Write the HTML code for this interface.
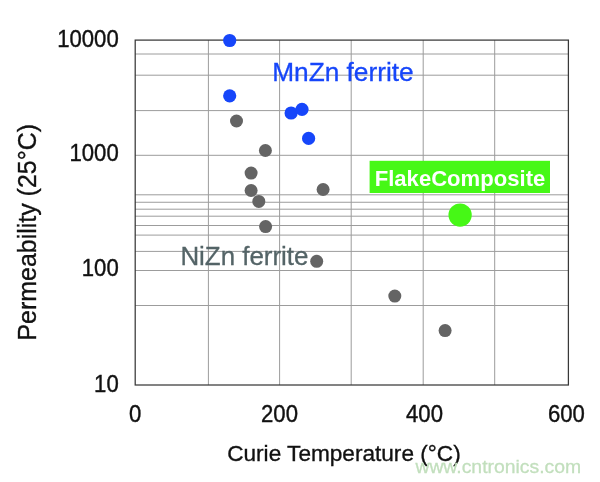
<!DOCTYPE html>
<html>
<head>
<meta charset="utf-8">
<title>Permeability vs Curie Temperature</title>
<style>
html,body{margin:0;padding:0;background:#fff;}
body{width:600px;height:482px;overflow:hidden;}
svg{display:block;}
text{font-family:"Liberation Sans",Arial,Helvetica,sans-serif;}
text{filter:opacity(1);}
</style>
</head>
<body>
<svg width="600" height="482" viewBox="0 0 600 482">
<rect x="0" y="0" width="600" height="482" fill="#ffffff"/>
<!-- grid lines -->
<g stroke="#9c9c9c" stroke-width="1" fill="none">
<line x1="135" x2="568.5" y1="54.0" y2="54.0"/>
<line x1="135" x2="568.5" y1="75.2" y2="75.2"/>
<line x1="135" x2="568.5" y1="110.6" y2="110.6"/>
<line x1="135" x2="568.5" y1="155.3" y2="155.3"/>
<line x1="135" x2="568.5" y1="194.8" y2="194.8"/>
<line x1="135" x2="568.5" y1="202.25" y2="202.25"/>
<line x1="135" x2="568.5" y1="209.2" y2="209.2"/>
<line x1="135" x2="568.5" y1="216.2" y2="216.2"/>
<line x1="135" x2="568.5" y1="225.5" y2="225.5"/>
<line x1="135" x2="568.5" y1="235.1" y2="235.1"/>
<line x1="135" x2="568.5" y1="251.4" y2="251.4"/>
<line x1="135" x2="568.5" y1="270.5" y2="270.5"/>
<line x1="135" x2="568.5" y1="305.5" y2="305.5"/>
<line x1="208.4" x2="208.4" y1="40" y2="385"/>
<line x1="279.6" x2="279.6" y1="40" y2="385"/>
<line x1="351.2" x2="351.2" y1="40" y2="385"/>
<line x1="423.2" x2="423.2" y1="40" y2="385"/>
<line x1="494.7" x2="494.7" y1="40" y2="385"/>
</g>
<!-- plot frame -->
<rect x="135.2" y="40.1" width="433.2" height="344.9" fill="none" stroke="#383838" stroke-width="1.25"/>
<!-- NiZn ferrite points -->
<g fill="#646464">
<circle cx="236.5" cy="121" r="6.5"/>
<circle cx="265.4" cy="150.5" r="6.5"/>
<circle cx="251.1" cy="173.1" r="6.5"/>
<circle cx="251.1" cy="190.5" r="6.5"/>
<circle cx="258.8" cy="201.4" r="6.5"/>
<circle cx="265.6" cy="226.6" r="6.5"/>
<circle cx="323.1" cy="189.5" r="6.5"/>
<circle cx="316.7" cy="261.3" r="6.5"/>
<circle cx="394.8" cy="296.1" r="6.5"/>
<circle cx="445.1" cy="330.6" r="6.5"/>
</g>
<!-- MnZn ferrite points -->
<g fill="#1646fa">
<circle cx="229.7" cy="40.5" r="6.6"/>
<circle cx="229.7" cy="95.8" r="6.6"/>
<circle cx="291.1" cy="113" r="6.6"/>
<circle cx="302" cy="109.3" r="6.6"/>
<circle cx="308.6" cy="138.4" r="6.6"/>
</g>
<!-- FlakeComposite -->
<rect x="369.6" y="160.8" width="180.4" height="32.2" fill="#46f816"/>
<circle cx="460.1" cy="215.1" r="11.65" fill="#46f816"/>
<text x="374.7" y="185.5" font-size="21.6" font-weight="bold" fill="#ffffff" textLength="170.6" lengthAdjust="spacingAndGlyphs">FlakeComposite</text>
<!-- series labels -->
<text x="272.2" y="80.8" font-size="25.6" fill="#1646fa" stroke="#1646fa" stroke-width="0.3" textLength="141.5" lengthAdjust="spacingAndGlyphs">MnZn ferrite</text>
<text x="180.4" y="264.7" font-size="25.4" fill="#546467" stroke="#546467" stroke-width="0.3" textLength="128.0" lengthAdjust="spacingAndGlyphs">NiZn ferrite</text>
<!-- y tick labels -->
<g font-size="23.6" fill="#111111" stroke="#111111" stroke-width="0.4" text-anchor="end">
<text x="118.7" y="46.5" textLength="61.5" lengthAdjust="spacingAndGlyphs">10000</text>
<text x="118.7" y="161.4" textLength="49.2" lengthAdjust="spacingAndGlyphs">1000</text>
<text x="118.7" y="275.9" textLength="36.9" lengthAdjust="spacingAndGlyphs">100</text>
<text x="118.7" y="392.0" textLength="24.6" lengthAdjust="spacingAndGlyphs">10</text>
</g>
<!-- x tick labels -->
<g font-size="23.6" fill="#111111" stroke="#111111" stroke-width="0.4" text-anchor="middle">
<text x="135.2" y="422.0" textLength="12.3" lengthAdjust="spacingAndGlyphs">0</text>
<text x="279.5" y="422.0" textLength="36.9" lengthAdjust="spacingAndGlyphs">200</text>
<text x="424.5" y="422.0" textLength="36.9" lengthAdjust="spacingAndGlyphs">400</text>
<text x="566.4" y="422.0" textLength="36.9" lengthAdjust="spacingAndGlyphs">600</text>
</g>
<!-- axis titles -->
<text x="227.2" y="461.3" font-size="22.9" fill="#111111" stroke="#111111" stroke-width="0.35" textLength="233.5" lengthAdjust="spacingAndGlyphs">Curie Temperature (°C)</text>
<text transform="translate(36.2,340.55) rotate(-90)" font-size="26.2" fill="#111111" stroke="#111111" stroke-width="0.35" textLength="216.5" lengthAdjust="spacingAndGlyphs">Permeability (25°C)</text>
<!-- watermark -->
<text x="415.4" y="472.6" font-size="18.7" fill="#c2dfbd" stroke="#c2dfbd" stroke-width="0.3" textLength="165.8" lengthAdjust="spacingAndGlyphs">www.cntronics.com</text>
</svg>
</body>
</html>
